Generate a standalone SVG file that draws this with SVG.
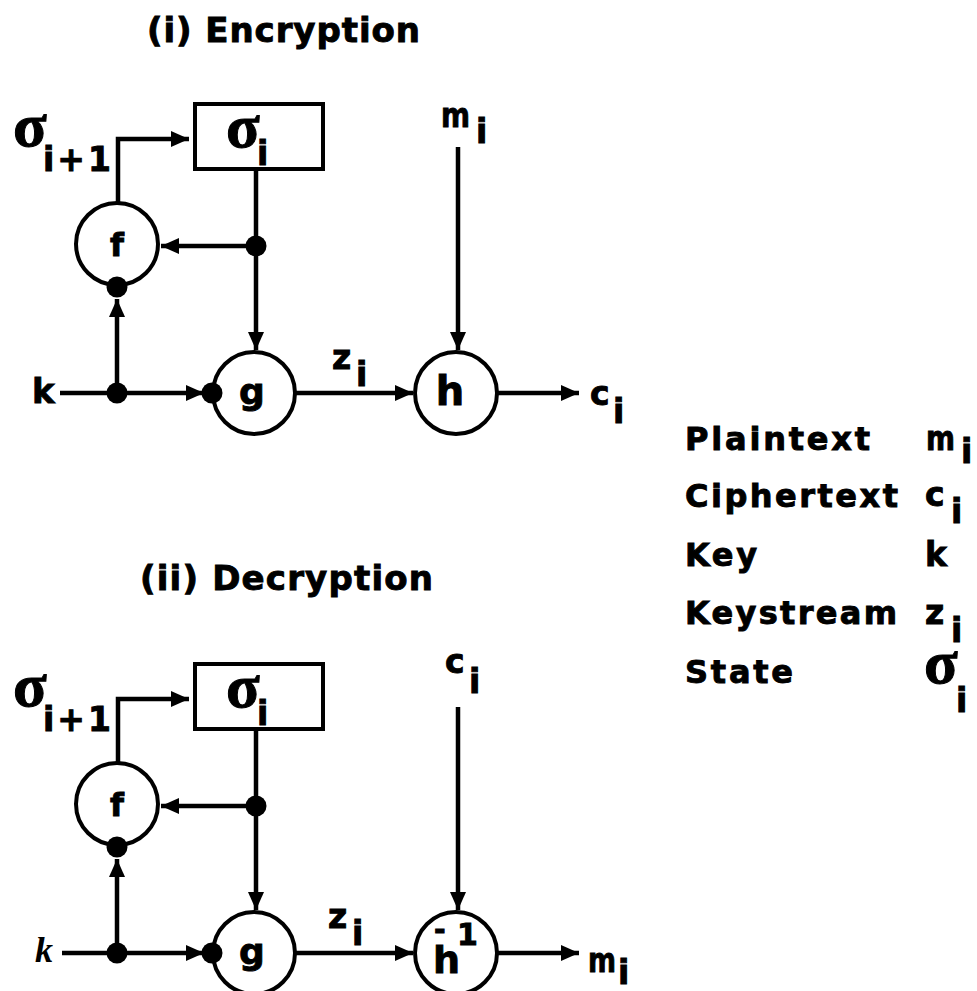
<svg xmlns="http://www.w3.org/2000/svg" width="977" height="991" viewBox="0 0 977 991">
<style>
.ln{stroke:#000;stroke-width:4.5;fill:none}
.nd{fill:#fff;stroke:#000;stroke-width:4}
.dot{fill:#000}
.t{font-family:"DejaVu Sans",Verdana,sans-serif;font-weight:bold;fill:#000;stroke:#000;stroke-width:0.9}
.s{font-family:"Liberation Serif","Times New Roman",serif;font-weight:bold;fill:#000;stroke:#000;stroke-width:1}
.c{text-anchor:middle}
</style>
<defs>
<marker id="ar" markerUnits="userSpaceOnUse" viewBox="0 0 18 16" markerWidth="18" markerHeight="16" refX="18" refY="8" orient="auto">
<path d="M0,0 L18,8 L0,16 z" fill="#000"/>
</marker>
</defs>
<rect width="977" height="991" fill="#fff"/>

<text class="t" x="147" y="42" font-size="34" textLength="273" lengthAdjust="spacing">(i) Encryption</text>
<text class="t" x="140" y="590" font-size="34" textLength="293" lengthAdjust="spacing">(ii) Decryption</text>

<g id="connectors">
<!-- encryption -->
<path class="ln" d="M118,203 V139 H189" marker-end="url(#ar)"/>
<path class="ln" d="M256,169 V350" marker-end="url(#ar)"/>
<path class="ln" d="M256,246 H161" marker-end="url(#ar)"/>
<path class="ln" d="M117,393 V299" marker-end="url(#ar)"/>
<path class="ln" d="M60,393 H204" marker-end="url(#ar)"/>
<path class="ln" d="M295,393 H413" marker-end="url(#ar)"/>
<path class="ln" d="M458,147 V350" marker-end="url(#ar)"/>
<path class="ln" d="M497,393 H579" marker-end="url(#ar)"/>
<!-- decryption -->
<path class="ln" d="M118,763 V699 H189" marker-end="url(#ar)"/>
<path class="ln" d="M256,729 V910" marker-end="url(#ar)"/>
<path class="ln" d="M256,806 H161" marker-end="url(#ar)"/>
<path class="ln" d="M117,953 V859" marker-end="url(#ar)"/>
<path class="ln" d="M62,953 H204" marker-end="url(#ar)"/>
<path class="ln" d="M295,953 H413" marker-end="url(#ar)"/>
<path class="ln" d="M458,707 V910" marker-end="url(#ar)"/>
<path class="ln" d="M497,953 H579" marker-end="url(#ar)"/>
</g>

<!-- encryption nodes -->
<g id="enc-state">
<rect class="nd" x="195" y="104" width="128" height="65"/>
<text class="s" x="226" y="147" font-size="62">σ</text>
<text class="t" x="257" y="165" font-size="33">i</text>
</g>
<g id="enc-next-label">
<text class="s" x="13" y="146" font-size="62">σ</text>
<text class="t" x="43" y="171" font-size="33" textLength="68" lengthAdjust="spacing">i+1</text>
</g>
<g id="enc-f">
<circle class="nd" cx="117" cy="244" r="41"/>
<text class="t c" x="117" y="256" font-size="32">f</text>
</g>
<g id="enc-g">
<circle class="nd" cx="254" cy="393" r="41"/>
<text class="t c" x="252" y="404" font-size="36">g</text>
</g>
<g id="enc-h">
<circle class="nd" cx="456" cy="393" r="41"/>
<text class="t c" x="450" y="405" font-size="40">h</text>
</g>
<g id="enc-dots">
<circle class="dot" cx="256" cy="246" r="10.5"/>
<circle class="dot" cx="117" cy="287" r="10.5"/>
<circle class="dot" cx="117" cy="393" r="10.5"/>
<circle class="dot" cx="212" cy="393" r="10.5"/>
</g>
<g id="enc-k"><text class="t" x="32" y="403" font-size="34">k</text></g>
<g id="enc-z">
<text class="t" x="332" y="369" font-size="33">z</text>
<text class="t" x="356" y="386" font-size="33">i</text>
</g>
<g id="enc-m">
<text class="t" x="441" y="127" font-size="33" textLength="29" lengthAdjust="spacingAndGlyphs">m</text>
<text class="t" x="476" y="143" font-size="33">i</text>
</g>
<g id="enc-c">
<text class="t" x="590" y="405" font-size="33">c</text>
<text class="t" x="613" y="423" font-size="33">i</text>
</g>

<!-- decryption nodes -->
<g id="dec-state">
<rect class="nd" x="195" y="664" width="128" height="65"/>
<text class="s" x="226" y="707" font-size="62">σ</text>
<text class="t" x="257" y="725" font-size="33">i</text>
</g>
<g id="dec-next-label">
<text class="s" x="13" y="706" font-size="62">σ</text>
<text class="t" x="43" y="731" font-size="33" textLength="68" lengthAdjust="spacing">i+1</text>
</g>
<g id="dec-f">
<circle class="nd" cx="117" cy="804" r="41"/>
<text class="t c" x="117" y="816" font-size="32">f</text>
</g>
<g id="dec-g">
<circle class="nd" cx="254" cy="953" r="41"/>
<text class="t c" x="252" y="964" font-size="36">g</text>
</g>
<g id="dec-hinv">
<circle class="nd" cx="456" cy="953" r="41"/>
<text class="t" x="433" y="973" font-size="38">h</text>
<text class="t" x="434" y="939" font-size="28">-</text>
<text class="t" x="457" y="945" font-size="30">1</text>
</g>
<g id="dec-dots">
<circle class="dot" cx="256" cy="806" r="10.5"/>
<circle class="dot" cx="117" cy="847" r="10.5"/>
<circle class="dot" cx="117" cy="953" r="10.5"/>
<circle class="dot" cx="212" cy="953" r="10.5"/>
</g>
<g id="dec-k"><text x="35" y="962" font-size="36" font-family="Liberation Serif,serif" font-style="italic" font-weight="bold">k</text></g>
<g id="dec-z">
<text class="t" x="328" y="928" font-size="33">z</text>
<text class="t" x="352" y="945" font-size="33">i</text>
</g>
<g id="dec-c">
<text class="t" x="445" y="673" font-size="33">c</text>
<text class="t" x="469" y="693" font-size="33">i</text>
</g>
<g id="dec-m">
<text class="t" x="588" y="972" font-size="33" textLength="28" lengthAdjust="spacingAndGlyphs">m</text>
<text class="t" x="618" y="984" font-size="33">i</text>
</g>

<!-- legend -->
<g id="legend">
<text class="t" x="685" y="450" font-size="32" textLength="185" lengthAdjust="spacing">Plaintext</text>
<text class="t" x="685" y="507" font-size="32" textLength="213" lengthAdjust="spacing">Ciphertext</text>
<text class="t" x="685" y="566" font-size="32" textLength="72" lengthAdjust="spacing">Key</text>
<text class="t" x="685" y="624" font-size="32" textLength="212" lengthAdjust="spacing">Keystream</text>
<text class="t" x="685" y="683" font-size="32" textLength="108" lengthAdjust="spacing">State</text>
<text class="t" x="926" y="450" font-size="33" textLength="29" lengthAdjust="spacingAndGlyphs">m</text>
<text class="t" x="961" y="463" font-size="33">i</text>
<text class="t" x="925" y="506" font-size="33">c</text>
<text class="t" x="951" y="523" font-size="33">i</text>
<text class="t" x="925" y="566" font-size="33">k</text>
<text class="t" x="925" y="624" font-size="33">z</text>
<text class="t" x="951" y="642" font-size="33">i</text>
<text class="s" x="924" y="683" font-size="62">σ</text>
<text class="t" x="956" y="712" font-size="33">i</text>
</g>
</svg>
